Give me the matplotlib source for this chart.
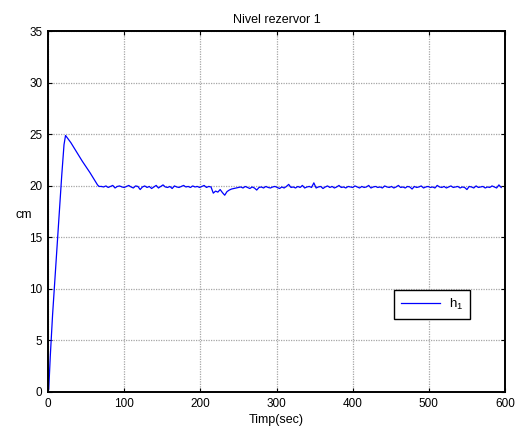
import numpy as np
import matplotlib
matplotlib.use("Agg")
import matplotlib.pyplot as plt

plt.rcParams['font.family'] = ['Liberation Sans', 'DejaVu Sans']
plt.rcParams['mathtext.default'] = 'regular'

# transient part
t_rise = [0, 1, 3, 6, 10, 14, 18, 21, 23, 26, 30, 35, 40, 45, 50, 55, 60, 65, 67]
h_rise = [0.0, 0.3, 3.5, 7.5, 12.0, 16.5, 21.0, 24.0, 24.9, 24.6, 24.2, 23.6, 23.0, 22.4, 21.85, 21.3, 20.7, 20.1, 19.95]

# steady state, sampled every 3 s from 70 s on
t_ss = list(range(70, 600, 3))
h_ss = [
    19.95, 19.9, 20.0, 19.85, 19.95, 20.05, 19.8, 19.95, 20.0, 19.9,
    19.85, 19.95, 20.05, 19.9, 19.8, 20.0, 19.95, 19.65, 19.9, 20.0,
    19.85, 19.95, 19.75, 19.9, 20.05, 19.8, 19.95, 20.1, 19.9, 19.85,
    19.95, 19.75, 20.0, 19.9, 19.85, 19.95, 20.05, 19.9, 19.95, 19.85,
    20.0, 19.9, 19.95, 19.85, 19.95, 20.05, 19.85, 19.95, 19.9, 19.3,
    19.5, 19.4, 19.65, 19.35, 19.1, 19.45, 19.6, 19.7, 19.75, 19.8,
    19.85, 19.9, 19.8, 19.95, 19.85, 19.75, 19.9, 19.8, 19.6, 19.85,
    19.9, 19.8, 19.95, 19.85, 19.8, 19.9, 19.95, 19.85, 19.75, 19.9,
    19.8, 19.95, 20.15, 19.85, 19.9, 19.8, 19.95, 19.85, 20.05, 19.8,
    19.9, 19.95, 19.85, 20.3, 19.8, 19.9, 19.95, 19.75, 19.9, 20.0,
    19.85, 19.95, 19.8, 19.9, 20.05, 19.85, 19.9, 19.8, 19.95, 19.9,
    19.85, 20.0, 19.9, 19.8, 19.95, 19.85, 19.9, 20.05, 19.8, 19.9,
    19.95, 19.85, 19.9, 19.8, 20.0, 19.9, 19.85, 19.95, 19.8, 19.9,
    20.05, 19.85, 19.9, 19.8, 19.95, 19.9, 19.7, 19.95, 19.85, 19.9,
    20.0, 19.8, 19.9, 19.95, 19.85, 19.9, 19.8, 20.05, 19.9, 19.85,
    19.95, 19.8, 19.9, 20.0, 19.85, 19.9, 19.95, 19.8, 19.9, 19.85,
    19.65, 19.95, 19.9, 19.8, 20.0, 19.85, 19.9, 19.95, 19.8, 19.9,
    19.85, 20.0, 19.9, 19.8, 20.1, 19.85,
]
t = np.array(t_rise + t_ss[:len(h_ss)])
h = np.array(h_rise + h_ss)

xticks = [0, 100, 200, 300, 400, 500, 600]
yticks = [0, 5, 10, 15, 20, 25, 30, 35]

fig = plt.figure(figsize=(5.23, 4.30), dpi=100)
ax = fig.add_axes([0.0918, 0.0884, 0.8738, 0.8386])
ax.plot(t, h, color='#0000ff', lw=0.9, label='h$_1$')
ax.set_xlim(0, 600)
ax.set_ylim(0, 35)
ax.set_xticks(xticks)
ax.set_yticks(yticks)
ax.grid(True, color='#a6a6a6', lw=0.9, ls=(0, (1, 1)))
ax.set_axisbelow(True)
for s in ax.spines.values():
    s.set_linewidth(1.4)
ax.tick_params(direction='in', length=3, width=0.8, top=True, right=True,
               labelsize=8.5, pad=4)
ax.set_title('Nivel rezervor 1', fontsize=9, pad=6)
ax.set_xlabel('Timp(sec)', fontsize=9, labelpad=3)
ax.set_ylabel('cm', fontsize=9, rotation=0, ha='right', va='center')
ax.yaxis.set_label_coords(-0.035, 0.49)

leg = ax.legend(loc='lower left', bbox_to_anchor=(0.757, 0.203, 0.166, 0.086),
                mode='expand', fontsize=9.5, frameon=True, fancybox=False,
                handlelength=3.0, borderpad=0.5, handletextpad=0.7,
                borderaxespad=0)
leg.get_frame().set_edgecolor('black')
leg.get_frame().set_linewidth(1.0)
leg.get_frame().set_alpha(1)

fig.savefig('out.png', dpi=100)
